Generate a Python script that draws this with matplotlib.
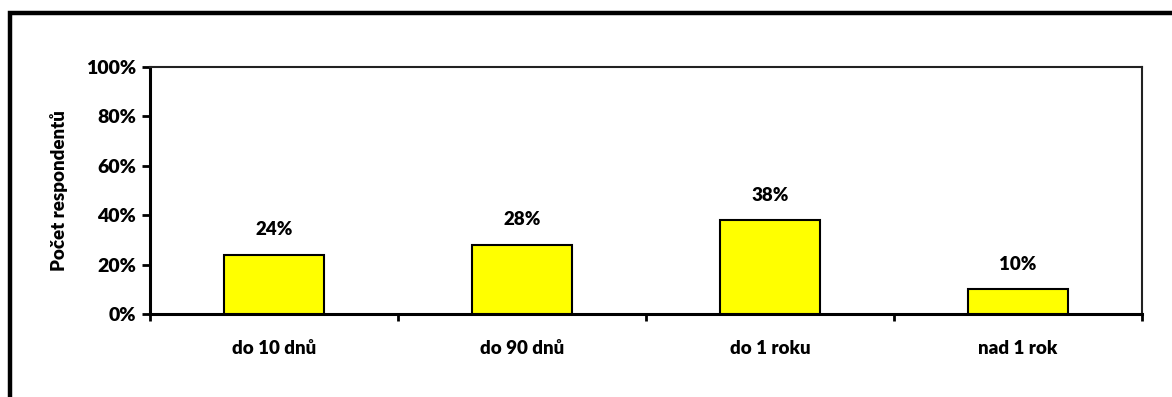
import matplotlib.pyplot as plt
from matplotlib.patches import Rectangle
from matplotlib.ticker import FuncFormatter

categories = ['do 10 dnů', 'do 90 dnů', 'do 1 roku', 'nad 1 rok']
values = [24, 28, 38, 10]
y_ticks = [0, 20, 40, 60, 80, 100]

plt.rcParams['font.family'] = ['Lato', 'DejaVu Sans']
plt.rcParams['font.weight'] = 'heavy'

W, H = 1172, 397
fig = plt.figure(figsize=(W / 100, H / 100), dpi=100)
ax = fig.add_axes([150 / W, 1 - 314 / H, (1142 - 150) / W, (314 - 67) / H])

x = range(len(categories))
ax.bar(x, values, width=0.4, color='#ffff00', edgecolor='black', linewidth=1.5, zorder=3)

for xi, v in zip(x, values):
    ax.annotate(f'{v}%', (xi, v), xytext=(0, 18), textcoords='offset points',
                ha='center', va='center', fontsize=13.5, fontweight='heavy')

ax.set_xlim(-0.5, len(categories) - 0.5)
ax.set_ylim(0, 100)
ax.set_yticks(y_ticks)
ax.yaxis.set_major_formatter(FuncFormatter(lambda v, p: f'{v:.0f}%'))
ax.set_xticks(list(x))
ax.set_xticklabels(categories)
ax.set_xticks([i - 0.5 for i in range(len(categories) + 1)], minor=True)
ax.tick_params(axis='x', which='major', length=0, pad=19, labelsize=13.5)
ax.tick_params(axis='x', which='minor', length=5, width=2, direction='out')
ax.tick_params(axis='y', length=6, width=2, direction='out', pad=4, labelsize=14)
for lab in ax.get_xticklabels() + ax.get_yticklabels():
    lab.set_fontweight('heavy')

ax.spines['left'].set_linewidth(2.2)
ax.spines['bottom'].set_linewidth(2.2)
ax.spines['top'].set_linewidth(1.5)
ax.spines['right'].set_linewidth(1.5)
ax.spines['top'].set_color('#222222')
ax.spines['right'].set_color('#222222')

ax.set_ylabel('Počet respondentů', fontsize=13.5, fontweight='heavy', labelpad=13)

# outer frame of the chart area
fig.patches.append(Rectangle((10 / W, -0.2), 1.2, 1 - 13 / H + 0.2, transform=fig.transFigure,
                             fill=False, edgecolor='black', linewidth=3.2))

fig.savefig('out.png', dpi=100)
